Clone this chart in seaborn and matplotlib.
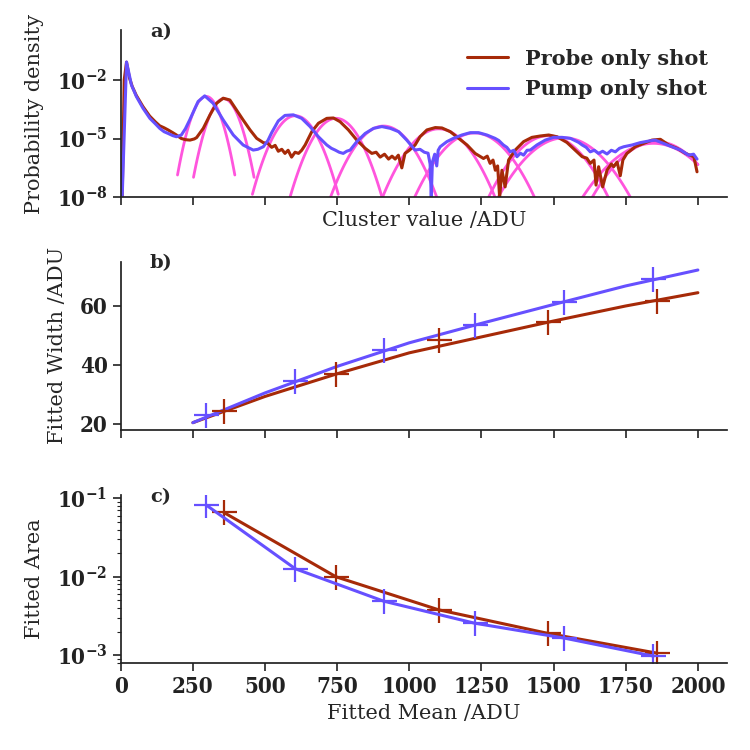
import numpy as np
import pandas as pd
import matplotlib
matplotlib.use("Agg")
import matplotlib.pyplot as plt
import seaborn as sns

# ---- panel a: cluster value histograms (log10 of probability density) ----
probe_x = [5, 12, 20, 30, 40, 54, 77, 100, 120, 135, 150, 164, 180, 193, 210, 225, 240,
           255, 263, 286, 309, 332, 355, 378, 401, 424, 448, 471, 494, 510, 523, 535,
           546, 558, 569, 580, 592, 604, 616, 627, 639, 662, 685, 714, 737, 760, 789,
           818, 847, 870, 885, 899, 914, 928, 940, 951, 962, 974, 985, 1000, 1020, 1037,
           1061, 1090, 1113, 1142, 1171, 1200, 1228, 1257, 1270, 1280, 1290, 1298, 1306,
           1313, 1321, 1332, 1344, 1367, 1396, 1425, 1454, 1483, 1512, 1546, 1575, 1599,
           1615, 1627, 1640, 1647, 1656, 1670, 1685, 1700, 1708, 1720, 1731, 1740, 1754,
           1783, 1812, 1841, 1870, 1899, 1928, 1957, 1986, 1997]
probe_log = [-8.0, -2.0, -1.1, -1.9, -2.35, -2.8, -3.37, -3.85, -4.15, -4.35, -4.45, -4.56,
             -4.7, -4.82, -5.0, -5.06, -5.08, -5.02, -4.95, -4.48, -3.8, -3.2, -2.94, -3.03,
             -3.54, -4.05, -4.56, -4.99, -5.21, -5.25, -5.45, -5.35, -5.65, -5.55, -5.76,
             -5.6, -5.95, -5.7, -5.76, -5.6, -5.33, -4.65, -4.22, -3.97, -3.95, -4.14, -4.56,
             -5.08, -5.5, -5.76, -5.7, -5.95, -5.8, -6.05, -5.9, -6.05, -5.85, -6.5, -5.76,
             -5.6, -5.33, -4.91, -4.56, -4.44, -4.46, -4.65, -4.99, -5.33, -5.76, -6.02,
             -5.9, -6.27, -6.1, -6.62, -6.4, -8.0, -6.62, -7.47, -6.1, -5.59, -5.16, -4.94,
             -4.87, -4.82, -4.91, -5.2, -5.6, -5.93, -6.0, -6.27, -6.1, -7.38, -6.44, -7.47,
             -6.62, -6.3, -6.44, -6.2, -6.9, -6.1, -5.76, -5.42, -5.25, -5.08, -5.04, -5.33,
             -5.5, -5.76, -5.93, -6.7]

pump_x = [5, 20, 37, 54, 77, 101, 120, 135, 150, 164, 180, 193, 210, 224, 239, 268, 291,
          320, 355, 390, 424, 440, 459, 475, 494, 510, 523, 546, 569, 598, 627, 656, 685,
          714, 730, 743, 757, 771, 783, 795, 818, 847, 876, 905, 934, 963, 991, 1020,
          1037, 1052, 1065, 1072, 1076, 1080, 1088, 1095, 1100, 1107, 1130, 1153, 1182,
          1211, 1240, 1269, 1297, 1310, 1326, 1338, 1350, 1362, 1373, 1385, 1396, 1408,
          1419, 1442, 1471, 1500, 1529, 1558, 1587, 1599, 1613, 1627, 1641, 1656, 1670,
          1685, 1700, 1714, 1728, 1743, 1772, 1800, 1829, 1852, 1881, 1910, 1940, 1968,
          1985, 1997]
pump_log = [-8.0, -1.09, -2.26, -2.85, -3.45, -3.97, -4.25, -4.48, -4.65, -4.74, -4.85,
            -4.91, -4.82, -4.5, -4.05, -3.11, -2.82, -3.2, -4.05, -4.82, -5.33, -5.45, -5.59,
            -5.55, -5.42, -5.1, -4.7, -4.1, -3.82, -3.79, -3.97, -4.39, -4.91, -5.33, -5.5,
            -5.59, -5.7, -5.76, -5.65, -5.59, -5.16, -4.74, -4.48, -4.39, -4.48, -4.65,
            -5.08, -5.59, -5.55, -5.7, -5.75, -6.3, -8.0, -6.2, -5.8, -6.4, -5.6, -5.42,
            -5.16, -4.99, -4.82, -4.7, -4.7, -4.82, -4.99, -5.1, -5.33, -5.45, -5.68, -5.6,
            -5.93, -5.75, -5.85, -5.6, -5.59, -5.33, -5.08, -4.94, -4.94, -4.99, -5.2,
            -5.33, -5.45, -5.68, -5.6, -5.76, -5.65, -5.79, -5.6, -5.68, -5.5, -5.42, -5.33,
            -5.21, -5.13, -5.08, -5.25, -5.42, -5.59, -5.85, -5.8, -6.05]

# ---- fitted peak parameters (panels b and c) ----
probe_mean = [357, 746, 1102, 1482, 1857]
probe_width = [24.4, 37.0, 48.6, 54.5, 61.7]
probe_area = [0.066, 0.010, 0.0038, 0.0019, 0.00107]

pump_mean = [296, 605, 911, 1226, 1537, 1846]
pump_width = [23.1, 34.6, 45.0, 53.4, 61.3, 69.0]
pump_area = [0.082, 0.01265, 0.0049, 0.00257, 0.00166, 0.00098]

# width trend lines
trend_x = [250, 500, 750, 1000, 1250, 1500, 1750, 2000]
probe_trend = [20.4, 29.3, 37.0, 44.1, 49.5, 54.9, 60.0, 64.5]
pump_trend = [20.4, 30.5, 39.5, 47.5, 54.1, 60.5, 66.8, 72.2]

RED = "#a62a08"
BLUE = "#6650ff"
PINK = "#ff55dd"

sns.set_theme(style="ticks")
plt.rcParams["font.family"] = ["DejaVu Serif"]
plt.rcParams["mathtext.fontset"] = "custom"
plt.rcParams["mathtext.rm"] = "DejaVu Serif:weight=bold:stretch=condensed"
plt.rcParams["mathtext.bf"] = "DejaVu Serif:weight=bold:stretch=condensed"
plt.rcParams["mathtext.default"] = "bf"
plt.rcParams["axes.edgecolor"] = "#222222"
plt.rcParams["xtick.color"] = "#222222"
plt.rcParams["ytick.color"] = "#222222"

fig = plt.figure(figsize=(7.5, 7.5), dpi=100)
ax_a = fig.add_axes([0.161, 0.737, 0.808, 0.223])
ax_b = fig.add_axes([0.161, 0.427, 0.808, 0.224], sharex=ax_a)
ax_c = fig.add_axes([0.161, 0.116, 0.808, 0.224], sharex=ax_a)

# a) histograms with gaussian fits
for means, widths, areas in [(probe_mean, probe_width, probe_area),
                             (pump_mean, pump_width, pump_area)]:
    for mu, sig, area in zip(means, widths, areas):
        xs = np.linspace(mu - 4.3 * sig, min(mu + 4.3 * sig, 2000), 120)
        ys = area / (np.sqrt(2 * np.pi) * sig) * np.exp(-(xs - mu) ** 2 / (2 * sig ** 2))
        sns.lineplot(x=xs, y=ys, ax=ax_a, color=PINK, lw=2, sort=False, estimator=None)

probe_df = pd.DataFrame({"x": probe_x, "y": 10.0 ** np.array(probe_log)})
pump_df = pd.DataFrame({"x": pump_x, "y": 10.0 ** np.array(pump_log)})
sns.lineplot(data=probe_df, x="x", y="y", ax=ax_a, color=RED, lw=2.2,
             sort=False, estimator=None, label="Probe only shot")
sns.lineplot(data=pump_df, x="x", y="y", ax=ax_a, color=BLUE, lw=2.2,
             sort=False, estimator=None, label="Pump only shot")
ax_a.set_yscale("log")
ax_a.set_ylim(1e-8, 3.5)
ax_a.set_yticks([1e-2, 1e-5, 1e-8])
ax_a.yaxis.set_minor_locator(matplotlib.ticker.NullLocator())
ax_a.set_ylabel("Probability density", fontsize=15, labelpad=9)
ax_a.set_xlabel("Cluster value /ADU", fontsize=15)
ax_a.tick_params(labelbottom=False)
leg = ax_a.legend(loc="upper right", bbox_to_anchor=(1.0, 1.0), frameon=False,
                  prop={"weight": "bold", "size": 15}, handlelength=2.0)

# b) fitted widths
mk = dict(marker="+", markersize=18, mew=1.6, linestyle="")
sns.lineplot(x=trend_x, y=probe_trend, ax=ax_b, color=RED, lw=2.2)
sns.lineplot(x=trend_x, y=pump_trend, ax=ax_b, color=BLUE, lw=2.2)
sns.lineplot(x=probe_mean, y=probe_width, ax=ax_b, color=RED, mec=RED, **mk)
sns.lineplot(x=pump_mean, y=pump_width, ax=ax_b, color=BLUE, mec=BLUE, **mk)
ax_b.set_ylim(18, 75)
ax_b.set_yticks([20, 40, 60])
ax_b.set_ylabel("Fitted Width /ADU", fontsize=15, labelpad=9)
ax_b.tick_params(labelbottom=False)

# c) fitted areas
sns.lineplot(x=probe_mean, y=probe_area, ax=ax_c, color=RED, lw=2.2, marker="+",
             markersize=18, mew=1.6, mec=RED)
sns.lineplot(x=pump_mean, y=pump_area, ax=ax_c, color=BLUE, lw=2.2, marker="+",
             markersize=18, mew=1.6, mec=BLUE)
ax_c.set_yscale("log")
ax_c.set_ylim(8e-4, 0.11)
ax_c.set_ylabel("Fitted Area", fontsize=15, labelpad=9)
ax_c.set_xlabel("Fitted Mean /ADU", fontsize=15)
ax_c.set_xlim(0, 2100)
ax_c.set_xticks(np.arange(0, 2001, 250))

for ax, lab in zip([ax_a, ax_b, ax_c], ["a)", "b)", "c)"]):
    sns.despine(ax=ax)
    ax.tick_params(axis="both", which="major", direction="out", length=6, width=1.2,
                   labelsize=16)
    ax.tick_params(axis="both", which="minor", length=3, width=0.8)
    for lbl in ax.get_xticklabels() + ax.get_yticklabels():
        lbl.set_fontweight("bold")
        lbl.set_fontstretch("condensed")
    ax.text(0.048, 0.99, lab, transform=ax.transAxes, fontsize=14, fontweight="bold",
            va="center", ha="left")

fig.savefig("out.png", dpi=100)
